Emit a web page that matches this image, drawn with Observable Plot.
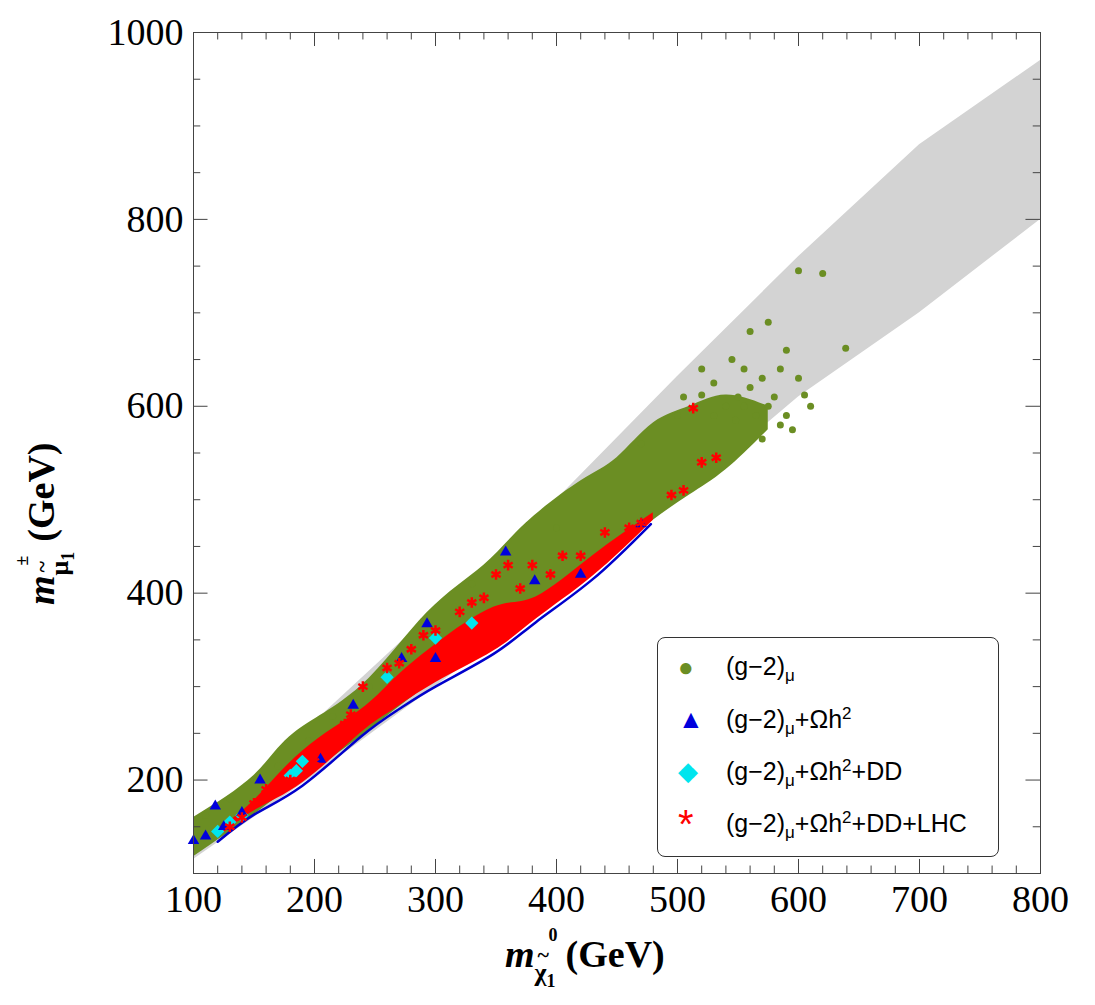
<!DOCTYPE html>
<html><head><meta charset="utf-8">
<script src="https://cdn.jsdelivr.net/npm/d3@7"></script>
<script src="https://cdn.jsdelivr.net/npm/@observablehq/plot@0.6"></script>
<style>
body{margin:0;background:#fff;font-family:"Liberation Serif",serif}
#wrap{position:relative;width:1095px;height:1005px}
.lab{position:absolute;font-family:"Liberation Serif",serif;font-weight:bold;font-size:38px;white-space:nowrap;line-height:1}
.lab .sb{display:inline-block;position:relative;font-size:26px;vertical-align:-14px;margin-right:10px}
.lab .tl{position:absolute;left:3px;top:-16px;font-size:22px}
.lab .sp{position:absolute;left:2px;top:-34px;font-size:18px}
#leg{position:absolute;left:657px;top:637px;width:340px;height:218px;border:1.5px solid #333;border-radius:8px;background:#fff;font-family:"Liberation Sans",Arial,sans-serif;font-size:25px}
#leg div{position:absolute;left:68px;white-space:nowrap}
#leg span.s{position:absolute;left:-48px;font-size:26px}
</style></head><body>
<div id="wrap"><div id="chart"></div>
<div class="lab" style="left:505px;top:935px"><i>m</i><span class="sb">χ<span class="tl">~</span><span class="sp" style="left:14px">0</span><sub style="font-size:18px">1</sub></span>(GeV)</div>
<div class="lab" style="left:22px;top:605px;transform-origin:0 0;transform:rotate(-90deg)"><i>m</i><span class="sb">μ<span class="tl">~</span><span class="sp" style="left:10px">±</span><sub style="font-size:18px">1</sub></span>(GeV)</div>
<div id="leg">
<div style="top:14px"><span class="s" style="color:#6b8e23">●</span>(g−2)<sub style="font-size:17px">μ</sub></div>
<div style="top:66px"><span class="s" style="color:#0000dd">▲</span>(g−2)<sub style="font-size:17px">μ</sub>+Ωh<sup style="font-size:17px">2</sup></div>
<div style="top:118px"><span class="s" style="color:#00e5ee">◆</span>(g−2)<sub style="font-size:17px">μ</sub>+Ωh<sup style="font-size:17px">2</sup>+DD</div>
<div style="top:170px"><span class="s" style="color:#ff0000;font-size:40px;top:-6px">*</span>(g−2)<sub style="font-size:17px">μ</sub>+Ωh<sup style="font-size:17px">2</sup>+DD+LHC</div>
</div>
</div>
<script>
// gray: all points (band edges)
const grayX = [100, 200, 300, 400, 500, 600, 700, 800];
const grayLo = [115, 205, 300, 398, 500, 610, 700, 800];
const grayHi = [145, 262, 382, 500, 632, 760, 880, 970];
// green dense band
const greenX = [100, 150, 183, 238, 293, 340, 375, 420, 450, 480, 510, 540, 575];
const greenLo = [118, 163, 195, 246, 300, 335, 368, 415, 447, 478, 505, 532, 575];
const greenHi = [160, 205, 250, 300, 379, 430, 475, 520, 545, 582, 600, 612, 600];
const greenPts = [[560,680],[575,690],[600,745],[620,742],[639,662],[590,660],[585,640],[570,630],[560,620],[550,610],[540,600],[530,625],[545,650],[520,640],[555,640],[575,600],[600,630],[590,590],[565,590],[530,590],[580,610],[610,600],[520,612],[548,585],[505,610],[110,162],[130,180],[150,200],[170,215],[195,242],[215,268],[245,300],[270,330],[290,370],[330,410],[355,440],[400,470],[470,560],[500,590],[585,580],[595,575],[570,565],[605,612],[555,600]];
// red dense band
const redX = [120, 150, 191, 238, 265, 300, 348, 383, 430, 480];
const redLo = [138, 167, 198, 250, 275, 304, 338, 372, 418, 478];
const redHi = [148, 178, 232, 275, 307, 345, 385, 396, 440, 486];
const redPts = [[513,598],[520,540],[532,545],[505,510],[495,505],[470,475],[460,470],[440,465],[420,440],[405,440],[380,430],[360,430],[350,420],[340,395],[300,360],[280,340],[230,270],[225,260],[160,190],[130,150],[150,175],[200,220],[240,300],[260,320],[320,380],[370,405],[310,345],[270,325],[290,355],[210,240],[180,200],[140,160],[330,390],[395,420]];
const bluePts = [[100,135],[118,172],[155,200],[232,280],[293,367],[358,444],[382,413],[272,330],[110,140],[140,165],[125,150],[300,330],[205,222],[420,420],[470,474]];
const blueEdge = [[120,134],[150,163],[190,194],[238,246],[270,276],[300,300],[348,335],[383,369],[430,415],[478,474]];
const cyanPts = [[120,145],[130,155],[140,162],[185,210],[190,220],[180,205],[260,310],[300,352],[330,368]];
const xTicks = [100, 200, 300, 400, 500, 600, 700, 800];
const yTicks = [200, 400, 600, 800, 1000];

const band = (xs, lo, hi) => xs.map((x, i) => ({x, lo: lo[i], hi: hi[i]}));
const pts = a => a.map(([x, y]) => ({x, y}));

const plot = Plot.plot({
  width: 1095, height: 1005,
  marginLeft: 193, marginRight: 55, marginTop: 32, marginBottom: 132,
  x: {domain: [100, 800], label: null, axis: null},
  y: {domain: [100, 1000], label: null, axis: null},
  style: {fontFamily: "Liberation Serif, serif", fontSize: "38px", color: "#000"},
  marks: [
    Plot.areaY(band(grayX, grayLo, grayHi), {x: "x", y1: "lo", y2: "hi", fill: "#d3d3d3"}),
    Plot.areaY(band(greenX, greenLo, greenHi), {x: "x", y1: "lo", y2: "hi", fill: "#6b8e23", curve: "natural"}),
    Plot.dot(pts(greenPts), {x: "x", y: "y", r: 3.5, fill: "#6b8e23"}),
    Plot.line(pts(blueEdge), {x: "x", y: "y", stroke: "#0000cc", strokeWidth: 2.5, curve: "natural"}),
    Plot.areaY(band(redX, redLo, redHi), {x: "x", y1: "lo", y2: "hi", fill: "#ff0000", curve: "natural"}),
    Plot.dot(pts(cyanPts), {x: "x", y: "y", symbol: "diamond2", r: 6, fill: "#00e5ee"}),
    Plot.dot(pts(bluePts), {x: "x", y: "y", symbol: "triangle2", r: 5.5, fill: "#0000dd"}),
    Plot.dot(pts(redPts), {x: "x", y: "y", symbol: "asterisk", r: 5, stroke: "#ff0000", strokeWidth: 2.5}),
    Plot.frame({stroke: "#444"}),
    Plot.ruleX(d3.range(100, 801, 20), {x: d => d, y1: 100, y2: d => d % 100 ? 108 : 115, stroke: "#444"}),
    Plot.ruleX(d3.range(100, 801, 20), {x: d => d, y1: d => d % 100 ? 992 : 985, y2: 1000, stroke: "#444"}),
    Plot.ruleY(d3.range(100, 1001, 50), {y: d => d, x1: 100, x2: d => d % 200 ? 106 : 112, stroke: "#444"}),
    Plot.ruleY(d3.range(100, 1001, 50), {y: d => d, x1: d => d % 200 ? 794 : 788, x2: 800, stroke: "#444"}),
    Plot.axisX(xTicks, {tickFormat: d => String(d), tickSize: 0, tickPadding: 12, fontSize: 38}),
    Plot.axisY(yTicks, {tickFormat: d => String(d), tickSize: 0, tickPadding: 10, fontSize: 38})
  ]
});
document.getElementById("chart").appendChild(plot);
</script></body></html>
